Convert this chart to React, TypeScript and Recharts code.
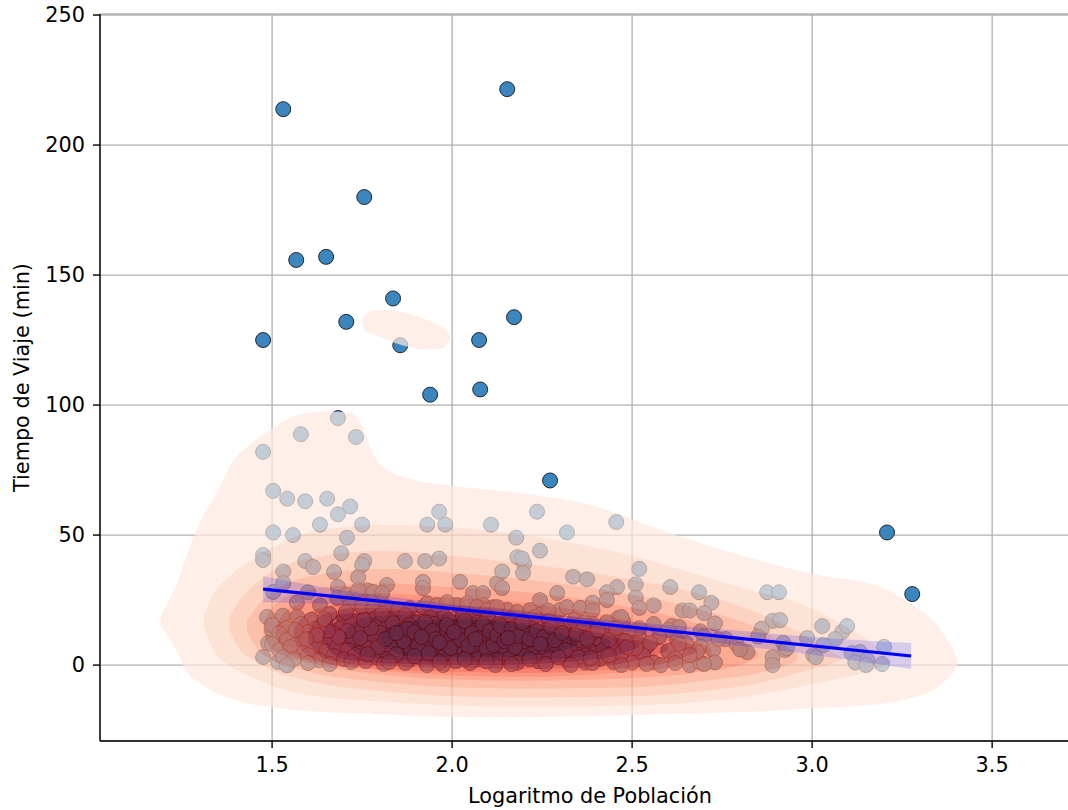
import { ComposedChart, Area, Line, Scatter, XAxis, YAxis, CartesianGrid } from "recharts";

// raw colors for svg
const GRID = "#b0b0b0";
const FONT = "DejaVu Sans, sans-serif";
const W = 1100;
const H = 810;
const X_DOMAIN: [number, number] = [1.022, 3.744];
const Y_DOMAIN: [number, number] = [-29.2, 250.4];
const KDE_ALPHA = 0.7;

const X_TICKS = [1.5, 2.0, 2.5, 3.0, 3.5];
const Y_TICKS = [0, 50, 100, 150, 200, 250];

// KDE filled contours, outer -> inner, as [x, low, high]
type Band = [number, number, number][];
const KDE_1: Band = [
  [1.19, 15, 19], [1.24, 4, 33], [1.26, -2, 41], [1.3, -7, 55], [1.35, -11, 67], [1.39, -13, 78],
  [1.44, -15, 85], [1.49, -16, 90], [1.58, -17.5, 96.5], [1.65, -18, 97.5], [1.72, -18.5, 97],
  [1.75, -18.5, 92], [1.77, -18.5, 85], [1.79, -19, 79], [1.82, -19, 75], [1.9, -19.5, 71],
  [2.0, -20, 69], [2.2, -20, 66], [2.4, -19.5, 61], [2.56, -19, 53], [2.7, -18.5, 46.5],
  [2.9, -17.5, 38.5], [3.02, -16.5, 34.5], [3.19, -15, 30], [3.28, -12.5, 23], [3.33, -10, 18],
  [3.37, -6, 11], [3.395, -2, 5], [3.405, 1, 1.5],
];
const KDE_ISLAND: Band = [
  [1.749, 131.5, 132.5], [1.76, 128.5, 135], [1.77, 127.8, 136], [1.81, 125.5, 136.8],
  [1.846, 123.7, 136.3], [1.88, 122.3, 135], [1.92, 121.4, 133.3], [1.96, 121.5, 131],
  [1.985, 123, 128.5], [1.995, 126, 126.5],
];
const KDE_2: Band = [
  [1.31, 15, 19], [1.34, 5, 28], [1.38, 0, 34], [1.45, -5, 41], [1.5, -8, 45], [1.6, -11.5, 51],
  [1.8, -14, 54], [2.0, -15.5, 53], [2.2, -16, 50], [2.5, -15.5, 42], [2.7, -14, 34],
  [2.85, -11.5, 28], [2.96, -8.5, 24], [3.08, -5, 16], [3.17, -2, 8], [3.22, 1, 2],
];
const KDE_3: Band = [
  [1.38, 14, 18], [1.41, 6, 25], [1.45, 2, 31], [1.5, -2, 36], [1.6, -6, 41], [1.8, -10, 44],
  [2.0, -12, 42], [2.2, -12.5, 39], [2.5, -12, 33], [2.7, -10, 27], [2.85, -7, 20],
  [2.96, -3, 13], [3.04, 0, 6], [3.08, 2, 3],
];
const KDE_4: Band = [
  [1.43, 13, 17], [1.46, 6, 23], [1.5, 2, 28], [1.6, -2.5, 34], [1.8, -6.5, 37], [2.0, -8.5, 35.5],
  [2.2, -9, 33], [2.5, -8.5, 27], [2.7, -6, 21], [2.85, -3, 14], [2.93, 0, 7], [2.96, 2, 4],
];
const KDE_5: Band = [
  [1.475, 12, 16], [1.5, 6, 22], [1.6, 1, 29], [1.8, -3.5, 31.5], [2.0, -5.5, 30], [2.2, -6, 28],
  [2.5, -5, 22], [2.7, -2.5, 15], [2.8, 0, 9], [2.85, 3, 5],
];
const KDE_6: Band = [
  [1.51, 11, 15], [1.54, 5, 21], [1.65, 0.5, 26], [1.8, -2, 27.5], [2.0, -4, 26], [2.2, -4.5, 24],
  [2.45, -3, 18.5], [2.62, -0.5, 12.5], [2.72, 3, 6.5],
];
const KDE_7: Band = [
  [1.56, 10, 14], [1.6, 3.5, 20], [1.7, -0.5, 23.5], [2.0, -2.5, 23], [2.2, -3, 21],
  [2.45, -1.5, 16], [2.6, 1, 11], [2.68, 5, 7],
];
const KDE_8: Band = [
  [1.6, 9, 13], [1.64, 3, 19.5], [1.75, 0, 22], [2.0, -1, 21], [2.2, -1.5, 19], [2.4, -0.5, 15],
  [2.52, 2, 11], [2.6, 5.5, 7.5],
];
const KDE_9: Band = [
  [1.64, 9, 13], [1.69, 2.5, 19.5], [1.85, 0.5, 21], [2.1, 0, 19], [2.3, 1, 15.5], [2.45, 3.5, 11],
  [2.52, 7, 8.5],
];
const KDE_10: Band = [
  [1.7, 9, 13], [1.76, 3, 18.5], [1.95, 1.5, 19.5], [2.15, 1.5, 17], [2.35, 3, 13], [2.44, 6.5, 9.5],
];
const KDE_11: Band = [
  [1.8, 8.5, 12.5], [1.88, 3.5, 17], [2.05, 3, 17.5], [2.25, 4, 14], [2.35, 7.5, 10],
];
const KDE_BANDS = [KDE_1, KDE_2, KDE_3, KDE_4, KDE_5, KDE_6, KDE_7, KDE_8, KDE_9, KDE_10, KDE_11];
const KDE_COLORS = [
  "#feeae1", "#fdd7c6", "#fcc1a8", "#fca486", "#fc8767", "#fb6b4b", "#f14c37", "#dc2e26", "#bf171d",
  "#a10e16", "#820613",
];

// regression fit + confidence band
const FIT_LINE = [
  { x: 1.475, y: 29.2 },
  { x: 3.275, y: 3.5 },
];
const FIT_CI: Band = [
  [1.475, 24.2, 34.2], [1.6, 23.8, 31.0], [1.8, 22.4, 26.8], [2.0, 20.0, 23.4], [2.2, 17.3, 20.4],
  [2.4, 14.2, 17.8], [2.6, 10.8, 15.4], [2.8, 7.4, 13.2], [3.0, 4.0, 10.8], [3.275, -1.5, 8.5],
];

// points outside the density cloud
const OUTLIERS: [number, number][] = [
  [1.531, 213.8], [2.153, 221.5], [1.756, 180], [1.567, 155.8], [1.65, 157], [1.836, 141],
  [1.706, 132], [2.172, 133.8], [1.475, 125], [2.075, 125], [1.856, 123], [2.078, 106],
  [1.939, 104], [2.272, 71], [3.208, 51], [3.278, 27.3],
];

const POINTS: [number, number][] = [
  [1.683, 95], [1.58, 88.8], [1.733, 87.7], [1.475, 82],
  [1.503, 67], [1.542, 64], [1.592, 63], [1.653, 64], [1.717, 61], [1.683, 58], [1.633, 54],
  [1.75, 54], [1.503, 51], [1.558, 50], [1.708, 49],
  [1.931, 54], [1.964, 59], [1.981, 54], [2.108, 54], [2.178, 49], [2.236, 59], [2.319, 51],
  [2.244, 44], [2.456, 55], [2.52, 37], [2.51, 31], [2.606, 30], [2.875, 28], [2.908, 28],
  [2.686, 28], [2.72, 24],
  [1.475, 42.3], [1.475, 40.4], [1.692, 43], [1.592, 40], [1.614, 37.7], [1.756, 40], [1.75, 38.5],
  [1.531, 36], [1.672, 35.8], [1.869, 40], [1.925, 40], [1.964, 41], [1.739, 33.8], [1.819, 30.8],
  [1.683, 30], [1.919, 32], [1.919, 29.6], [2.022, 32], [2.058, 27.7], [2.086, 27.7], [2.125, 31.5],
  [2.139, 29.6], [2.181, 41.5], [2.2, 39], [2.197, 35.4], [2.139, 36], [2.194, 41], [1.503, 28.1],
  [1.531, 31.5], [1.6, 28], [1.569, 24], [1.633, 23], [1.681, 25.8], [1.708, 27], [1.725, 25.8],
  [1.764, 28.8], [1.781, 28.1], [1.806, 27.7], [1.739, 28.8], [1.717, 23], [1.75, 22.3], [1.781, 22],
  [1.819, 22.3], [1.85, 21.2], [1.883, 21.9], [1.919, 22.3], [1.947, 21.2], [1.975, 19.2],
  [2.014, 23.1], [2.031, 20], [2.058, 19.2], [2.086, 23.1], [2.114, 22.3], [2.153, 21.2],
  [2.181, 20.4], [1.931, 23.8], [1.958, 23.1], [1.986, 24.2], [2.042, 23.8], [2.069, 22.3],
  [2.097, 21.2], [2.125, 22.3], [2.217, 21.2], [2.253, 20.4], [2.3, 21.2], [2.292, 27.7],
  [2.319, 22.3], [2.336, 34], [2.375, 33], [2.458, 30], [2.244, 25], [2.267, 21], [2.356, 22],
  [2.39, 24], [2.39, 21], [2.43, 28], [2.43, 25], [2.46, 18], [2.475, 17], [2.51, 26], [2.52, 22],
  [2.56, 23], [2.61, 15], [2.63, 14.6], [2.64, 21], [2.66, 21], [2.69, 13], [2.7, 11], [2.69, 7],
  [2.725, 5.8], [2.73, 1], [2.66, 0], [2.69, 1], [2.56, 1], [2.58, 0], [2.625, 9.6], [2.65, 8.5],
  [2.6, 13.5], [2.575, 10.8], [2.52, 10.8], [2.54, 7], [2.53, 3.8], [2.5, 1], [2.55, 8.5],
  [2.37, 1], [2.45, 1], [2.41, 9.6], [2.44, 8.5], [2.46, 10.8], [2.475, 14.6], [2.47, 18.5],
  [2.38, 5.8], [2.4, 4.6], [2.31, 14.6], [2.33, 10.8], [2.36, 9.6], [2.36, 6.9], [2.25, 5.8],
  [2.28, 3.8], [2.3, 13.5], [2.24, 10.8], [2.26, 8.5], [2.16, 12.3], [2.19, 8.5], [2.12, 9.6],
  [2.14, 6.9], [2.17, 4.6], [2.205, 5.2], [2.7, 20], [2.73, 16], [2.89, 17], [2.86, 14],
  [2.85, 11], [2.82, 5], [2.89, 3], [2.89, 0], [2.92, 8.5], [2.925, 5.8], [2.911, 17.3],
  [3.028, 15], [3.083, 12.7], [3.097, 15], [3.064, 10], [2.986, 10.4], [3.031, 7.7], [2.93, 6.5],
  [3.003, 3.8], [3.01, 3], [3.11, 4.6], [3.133, 5], [3.12, 1], [3.153, 2], [3.15, 0], [3.194, 0.4],
  [3.2, 7], [2.76, 10], [2.79, 8], [2.8, 6], [2.74, 10], [2.68, 5], [2.63, 8],
  [1.475, 3.1], [1.517, 1.2], [1.542, 0], [1.486, 18.5], [1.5, 13.5], [1.489, 8.5],
  // dense core
  [1.53, 19], [1.57, 18.5], [1.61, 17.5], [1.66, 19.6], [1.7, 18.1], [1.73, 16.9], [1.79, 18.5],
  [1.83, 17.2], [1.87, 19.2], [1.9, 16.5], [1.94, 18.1], [1.99, 17.3], [2.03, 18.8], [2.07, 16.2],
  [2.1, 18.5], [2.16, 17.7], [2.2, 16.5], [2.23, 18.5], [2.27, 16.9], [2.34, 17.3], [2.39, 15.8],
  [2.43, 16.5],
  [1.5, 15.4], [1.54, 14.2], [1.58, 15.8], [1.62, 13.8], [1.65, 15], [1.69, 14.2], [1.72, 15.8],
  [1.76, 13.5], [1.79, 15], [1.82, 14.6], [1.85, 13.1], [1.88, 15.4], [1.91, 14.2], [1.95, 15.8],
  [1.97, 13.5], [2.0, 14.6], [2.04, 15.4], [2.06, 13.1], [2.09, 14.6], [2.13, 15.8], [2.15, 13.8],
  [2.18, 15], [2.22, 14.2], [2.26, 13.5], [2.29, 15.4], [2.35, 13.8], [2.38, 14.6], [2.42, 13.1],
  [2.52, 14.2], [2.56, 15.8],
  [1.52, 12.3], [1.56, 11.2], [1.6, 12.7], [1.64, 10.8], [1.67, 12.3], [1.7, 11.5], [1.74, 12.7],
  [1.77, 10.8], [1.8, 12.3], [1.83, 11.2], [1.86, 12.7], [1.89, 10.4], [1.92, 12], [1.94, 11.2],
  [1.97, 12.7], [2.0, 10.8], [2.02, 12.3], [2.05, 11.2], [2.08, 12.7], [2.11, 10.4], [2.14, 11.9],
  [2.17, 10.8], [2.21, 12.3], [2.24, 11.5], [2.28, 12.3], [2.32, 11.2], [2.39, 12.3], [2.45, 11.5],
  [2.49, 12.7],
  [1.5, 8.1], [1.54, 9.6], [1.57, 8.5], [1.61, 9.2], [1.63, 7.7], [1.66, 9.6], [1.69, 8.1],
  [1.72, 9.6], [1.75, 7.7], [1.78, 9.2], [1.81, 8.1], [1.84, 9.6], [1.87, 7.7], [1.9, 8.8],
  [1.93, 9.6], [1.96, 8.1], [1.99, 9.2], [2.01, 7.7], [2.04, 9.6], [2.07, 8.5], [2.1, 9.2],
  [2.13, 7.7], [2.16, 9.6], [2.2, 8.1], [2.23, 9.2], [2.27, 7.7], [2.31, 8.8], [2.35, 9.6],
  [2.44, 7.3], [2.48, 9.2],
  [1.52, 5.8], [1.55, 6.9], [1.59, 5], [1.62, 6.5], [1.65, 5.4], [1.68, 6.9], [1.71, 5.8],
  [1.74, 4.6], [1.77, 6.5], [1.8, 5.4], [1.83, 6.9], [1.86, 5], [1.88, 6.2], [1.91, 5.4],
  [1.94, 6.9], [1.97, 5], [2.0, 6.2], [2.03, 5.4], [2.06, 6.9], [2.09, 4.6], [2.12, 6.2],
  [2.15, 5], [2.19, 6.5], [2.22, 4.2], [2.29, 6.9], [2.33, 5.4], [2.37, 3.8], [2.42, 5.8],
  [2.47, 4.6], [2.51, 6.5], [2.6, 5.4],
  [1.53, 3.1], [1.56, 2.3], [1.6, 3.8], [1.63, 1.9], [1.67, 3.5], [1.7, 2.3], [1.73, 3.8],
  [1.76, 1.5], [1.79, 3.1], [1.82, 2.3], [1.85, 3.8], [1.88, 1.9], [1.91, 3.1], [1.95, 2.3],
  [1.98, 3.5], [2.01, 1.5], [2.04, 3.1], [2.07, 2.3], [2.1, 3.8], [2.13, 1.9], [2.16, 2.7],
  [2.2, 3.5], [2.24, 1.5], [2.27, 2.7], [2.32, 1.9], [2.35, 3.1], [2.41, 2.3], [2.62, 2.7],
  [2.66, 3.8],
  [1.54, 0], [1.6, 0.8], [1.66, 0.4], [1.72, 1.2], [1.81, 0.4], [1.87, 0.8], [1.93, 0], [1.975, 0],
  [2.05, 0.8], [2.12, 0], [2.18, 0.8], [2.26, 0.4], [2.33, 0], [2.39, 0.8], [2.47, 0], [2.54, 0.4],
  [2.62, 0.8], [2.7, 0.4],
  [1.71, 13.1], [1.745, 10.4], [1.775, 14.2], [1.795, 6.9], [1.815, 10], [1.835, 16.2], [1.845, 4.2],
  [1.865, 9.2], [1.875, 14], [1.895, 12.7], [1.905, 7.3], [1.925, 16.5], [1.935, 4.6], [1.945, 13.1],
  [1.955, 10], [1.985, 15.4], [1.995, 6.5], [2.015, 13.5], [2.025, 9.6], [2.035, 16.9], [2.045, 7.3],
  [2.055, 12.3], [2.075, 10.4], [2.085, 15.8], [2.095, 6.2], [2.105, 13.1], [2.115, 7.7],
  [2.125, 11.5], [2.135, 15], [2.145, 9.2], [2.165, 13.8], [2.175, 6.9], [2.185, 11.2],
  [2.195, 16.2], [2.215, 10], [2.235, 13.1], [2.255, 10.8], [2.275, 14.6], [2.285, 9.6],
  [2.305, 12.3], [2.315, 5.8], [2.345, 11.9], [2.365, 16.2], [2.375, 10], [2.405, 13.5],
  [2.435, 9.6], [2.455, 14.2], [2.485, 6.9], [1.755, 17.3], [1.805, 19.6], [1.845, 12.3],
  [1.915, 10.8], [1.965, 8.8], [2.005, 12.7], [2.065, 10], [2.155, 10.4], [2.245, 8.1],
  [1.685, 10.8], [1.655, 13.1], [1.625, 11.5], [1.595, 10], [1.565, 13.5], [1.645, 17.7],
  [1.705, 20.4], [1.765, 4.2], [1.825, 1.2], [1.895, 3.5], [1.965, 1.2], [2.035, 2.3],
  [2.095, 1.5], [2.165, 0.4], [2.215, 2.3], [2.295, 3.1], [2.385, 2.7], [2.435, 3.8],
];

const toRange = (b: Band) => b.map(([x, lo, hi]) => ({ x, r: [lo, hi] }));
const toXY = (p: [number, number][]) => p.map(([x, y]) => ({ x, y }));

const Dot = (props: any) => (
  <circle
    cx={props.cx}
    cy={props.cy}
    r={7.5}
    fill="#2a7cba"
    fillOpacity={0.92}
    stroke="#111"
    strokeOpacity={0.85}
    strokeWidth={1}
  />
);

const tickStyle = { fontSize: 20.8, fill: "#000", fontFamily: FONT };
const spine = { stroke: "#000", strokeWidth: 1.4 };
const MARGIN = { top: 14, right: 20, left: 0, bottom: 0 };
const layer = { position: "absolute" as const, left: 0, top: 0 };

// same box as the visible axes, drawn empty, so the overlays share the scales
const ghostAxes = () => [
  <XAxis key="gx" type="number" dataKey="x" domain={X_DOMAIN} allowDataOverflow height={69} tick={false} tickLine={false} axisLine={false} />,
  <XAxis key="gt" xAxisId="top" orientation="top" type="number" dataKey="x" domain={X_DOMAIN} allowDataOverflow height={0} tick={false} tickLine={false} axisLine={false} />,
  <YAxis key="gy" type="number" domain={Y_DOMAIN} allowDataOverflow width={100} tick={false} tickLine={false} axisLine={false} />,
];

export default function App() {
  return (
    <div style={{ position: "absolute", left: 0, top: 0, width: 1068, height: 810, overflow: "hidden", background: "#fff" }}>
      {/* base: grid, axes, points */}
      <div style={layer}>
        <ComposedChart width={W} height={H} margin={MARGIN}>
          <CartesianGrid stroke={GRID} strokeWidth={1.3} />
          <XAxis
            type="number"
            dataKey="x"
            domain={X_DOMAIN}
            allowDataOverflow
            ticks={X_TICKS}
            tickFormatter={(v: number) => v.toFixed(1)}
            tick={tickStyle}
            tickSize={7}
            tickMargin={9}
            height={69}
            axisLine={spine}
            tickLine={spine}
            label={(p: any) => {
              const vb = p.viewBox;
              return (
                <text x={vb.x + vb.width / 2} y={vb.y + 62} textAnchor="middle" fontSize={20.8} fontFamily={FONT} fill="#000">
                  Logaritmo de Población
                </text>
              );
            }}
          />
          <XAxis
            xAxisId="top"
            orientation="top"
            type="number"
            dataKey="x"
            domain={X_DOMAIN}
            allowDataOverflow
            tick={false}
            tickLine={false}
            height={0}
            axisLine={spine}
          />
          <YAxis
            type="number"
            domain={Y_DOMAIN}
            allowDataOverflow
            ticks={Y_TICKS}
            tick={tickStyle}
            tickSize={7}
            tickMargin={8}
            width={100}
            axisLine={spine}
            tickLine={spine}
            label={(p: any) => {
              const vb = p.viewBox;
              const cx = 29;
              const cy = vb.y + vb.height / 2;
              return (
                <text x={cx} y={cy} transform={`rotate(-90, ${cx}, ${cy})`} textAnchor="middle" fontSize={20.8} fontFamily={FONT} fill="#000">
                  Tiempo de Viaje (min)
                </text>
              );
            }}
          />
          <Scatter data={toXY(POINTS.concat(OUTLIERS))} dataKey="y" isAnimationActive={false} shape={Dot} />
        </ComposedChart>
      </div>

      {/* density, composited as one translucent layer */}
      <div style={{ ...layer, opacity: KDE_ALPHA, pointerEvents: "none" }}>
        <ComposedChart width={W} height={H} margin={MARGIN}>
          {ghostAxes()}
          {KDE_BANDS.map((band, i) => (
            <Area
              key={"kde" + i}
              data={toRange(band)}
              dataKey="r"
              type="monotone"
              stroke="none"
              fill={KDE_COLORS[i]}
              fillOpacity={1}
              isAnimationActive={false}
              activeDot={false}
              dot={false}
            />
          ))}
          <Area
            data={toRange(KDE_ISLAND)}
            dataKey="r"
            type="monotone"
            stroke="none"
            fill={KDE_COLORS[0]}
            fillOpacity={1}
            isAnimationActive={false}
            activeDot={false}
            dot={false}
          />
        </ComposedChart>
      </div>

      {/* regression fit */}
      <div style={{ ...layer, pointerEvents: "none" }}>
        <ComposedChart width={W} height={H} margin={MARGIN}>
          {ghostAxes()}
          <Area
            data={toRange(FIT_CI)}
            dataKey="r"
            type="monotone"
            stroke="none"
            fill="#0000ff"
            fillOpacity={0.15}
            isAnimationActive={false}
            activeDot={false}
            dot={false}
          />
          <Line
            data={FIT_LINE}
            dataKey="y"
            stroke="#0000ff"
            strokeWidth={3.2}
            dot={false}
            activeDot={false}
            isAnimationActive={false}
          />
        </ComposedChart>
      </div>
    </div>
  );
}
